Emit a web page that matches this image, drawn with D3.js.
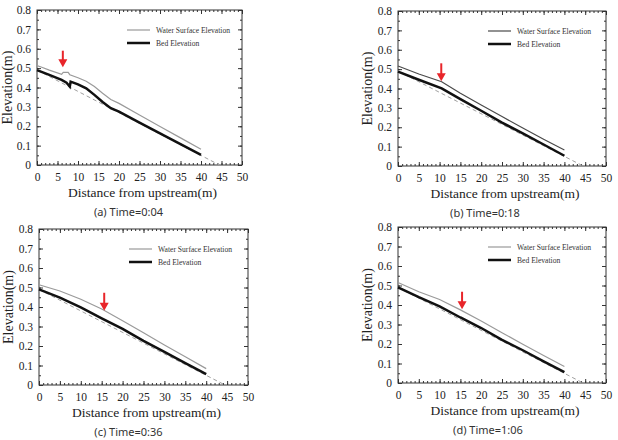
<!DOCTYPE html>
<html><head><meta charset="utf-8">
<script src="https://cdn.jsdelivr.net/npm/d3@7"></script>
<style>body{margin:0;background:#fff}</style>
</head><body><svg id="c" width="618" height="440"></svg>
<script>
// ---- data ----
const captions = ["(a) Time=0:04", "(b) Time=0:18", "(c) Time=0:36", "(d) Time=1:06"];
const xTicks = [0, 5, 10, 15, 20, 25, 30, 35, 40, 45, 50];
const yTicks = [0, 0.1, 0.2, 0.3, 0.4, 0.5, 0.6, 0.7, 0.8];
const yTickLabels = ["0", "0.1", "0.2", "0.3", "0.4", "0.5", "0.6", "0.7", "0.8"];
const seriesNames = ["Water Surface Elevation", "Bed Elevation"];
const xTitle = "Distance from upstream(m)";
const yTitle = "Elevation(m)";

const waterAx = [0, 1, 3, 6, 6.4, 7.6, 8.0, 10, 12, 14, 16, 18, 20, 25, 30, 35, 40];
const waterAy = [0.513, 0.506, 0.49, 0.468, 0.478, 0.478, 0.466, 0.45, 0.432, 0.405, 0.37, 0.338, 0.318, 0.258, 0.199, 0.14, 0.081];
const bedAx = [0, 3, 6, 7.2, 8.0, 8.2, 10, 12, 14, 16, 18, 20, 25, 30, 35, 40];
const bedAy = [0.49, 0.465, 0.439, 0.425, 0.405, 0.43, 0.416, 0.396, 0.362, 0.325, 0.293, 0.275, 0.219, 0.163, 0.108, 0.052];

const stationX = [0, 5, 10.5, 15, 20, 25, 30, 35, 40];
const waterBy = [0.516, 0.475, 0.435, 0.375, 0.315, 0.255, 0.196, 0.138, 0.083];
const bedBy = [0.487, 0.445, 0.401, 0.345, 0.285, 0.224, 0.168, 0.111, 0.053];

const stationX2 = [0, 5, 10, 15, 20, 25, 30, 35, 40];
const waterCy = [0.514, 0.482, 0.44, 0.39, 0.33, 0.268, 0.205, 0.145, 0.084];
const bedCy = [0.49, 0.448, 0.398, 0.342, 0.288, 0.226, 0.17, 0.112, 0.056];
const waterDy = [0.515, 0.468, 0.428, 0.375, 0.318, 0.258, 0.199, 0.141, 0.085];
const bedDy = [0.49, 0.44, 0.393, 0.336, 0.282, 0.221, 0.168, 0.111, 0.056];

const initBedX = [0, 44.5];
const initBedY = [0.49, 0.0];

const arrowX = [6.3, 10.4, 15.6, 15.4];
const arrowTop = [0.59, 0.53, 0.473, 0.468];
const arrowTip = [0.505, 0.437, 0.381, 0.378];

// ---- layout / style ----
const layout = [
  {l: 37, t: 10, r: 242, b: 165, capDx: -11, water: "#9a9a9a"},
  {l: 398, t: 11, r: 606, b: 166, capDx: -17, water: "#4a4a4a"},
  {l: 39, t: 229, r: 248, b: 385, capDx: -15, water: "#9a9a9a"},
  {l: 398, t: 227, r: 606, b: 383, capDx: -14, water: "#9a9a9a"}
];
const waterSets = [
  [waterAx, waterAy], [stationX, waterBy], [stationX2, waterCy], [stationX2, waterDy]
];
const bedSets = [
  [bedAx, bedAy], [stationX, bedBy], [stationX2, bedCy], [stationX2, bedDy]
];

const svg = d3.select("#c");
const serif = "'Liberation Serif','Times New Roman',serif";

layout.forEach((L, i) => {
  const x = d3.scaleLinear().domain([0, 50]).range([L.l, L.r]);
  const y = d3.scaleLinear().domain([0, 0.8]).range([L.b, L.t]);
  const g = svg.append("g");
  const minorX = d3.range(0, 51, 1);
  const minorY = d3.range(0, 0.8001, 0.05);

  // minor ticks
  const mk = (axis, tr, vals) => {
    const a = g.append("g").attr("transform", tr)
      .call(axis.tickValues(vals).tickFormat("").tickSizeInner(-2).tickSizeOuter(0));
    a.select(".domain").remove();
    a.selectAll("line").attr("stroke", "#333");
  };
  mk(d3.axisBottom(x), `translate(0,${L.b})`, minorX);
  mk(d3.axisTop(x), `translate(0,${L.t})`, minorX);
  mk(d3.axisLeft(y), `translate(${L.l},0)`, minorY);
  mk(d3.axisRight(y), `translate(${L.r},0)`, minorY);

  // major ticks
  const xb = g.append("g").attr("transform", `translate(0,${L.b})`)
    .call(d3.axisBottom(x).tickValues(xTicks).tickFormat(d3.format("d")).tickSizeInner(-4).tickSizeOuter(0).tickPadding(8));
  const xt = g.append("g").attr("transform", `translate(0,${L.t})`)
    .call(d3.axisTop(x).tickValues(xTicks).tickFormat("").tickSizeInner(-4).tickSizeOuter(0));
  const yl = g.append("g").attr("transform", `translate(${L.l},0)`)
    .call(d3.axisLeft(y).tickValues(yTicks).tickFormat((d, k) => yTickLabels[k]).tickSizeInner(-4).tickSizeOuter(0).tickPadding(6));
  const yr = g.append("g").attr("transform", `translate(${L.r},0)`)
    .call(d3.axisRight(y).tickValues(yTicks).tickFormat("").tickSizeInner(-4).tickSizeOuter(0));
  [xb, xt, yl, yr].forEach(a => {
    a.select(".domain").remove();
    a.selectAll("line").attr("stroke", "#333");
    a.selectAll("text").attr("font-family", serif).attr("font-size", 11.5).attr("fill", "#222");
  });

  // frame
  g.append("rect").attr("x", L.l).attr("y", L.t).attr("width", L.r - L.l).attr("height", L.b - L.t)
    .attr("fill", "none").attr("stroke", "#333").attr("stroke-width", 1);

  const line = d3.line().x(d => x(d[0])).y(d => y(d[1]));
  // initial bed (dashed)
  g.append("path").datum(d3.zip(initBedX, initBedY)).attr("d", line)
    .attr("fill", "none").attr("stroke", "#a0a0a0").attr("stroke-width", 1).attr("stroke-dasharray", "4,3");
  // water
  g.append("path").datum(d3.zip(waterSets[i][0], waterSets[i][1])).attr("d", line)
    .attr("fill", "none").attr("stroke", L.water).attr("stroke-width", 1.2);
  // bed
  g.append("path").datum(d3.zip(bedSets[i][0], bedSets[i][1])).attr("d", line)
    .attr("fill", "none").attr("stroke", "#111").attr("stroke-width", 2.5);

  // legend
  const lx0 = L.l + 90, lx1 = L.l + 113;
  [[L.water, 1.2, L.t + 20], ["#111", 2.5, L.t + 33]].forEach((s, k) => {
    g.append("line").attr("x1", lx0).attr("x2", lx1).attr("y1", s[2]).attr("y2", s[2])
      .attr("stroke", s[0]).attr("stroke-width", s[1]);
    g.append("text").attr("x", L.l + 119).attr("y", s[2]).attr("dy", "0.35em")
      .attr("font-family", serif).attr("font-size", 7.6).attr("fill", "#333").text(seriesNames[k]);
  });

  // arrow
  const ax = x(arrowX[i]), ay0 = y(arrowTop[i]), ay1 = y(arrowTip[i]);
  g.append("line").attr("x1", ax).attr("x2", ax).attr("y1", ay0).attr("y2", ay1 - 6)
    .attr("stroke", "#e8252a").attr("stroke-width", 2);
  g.append("path").attr("d", `M${ax - 4.5},${ay1 - 8} L${ax + 4.5},${ay1 - 8} L${ax},${ay1} Z`)
    .attr("fill", "#e8252a");

  // titles
  g.append("text").attr("x", (L.l + L.r) / 2 + 3).attr("y", L.b + 27).attr("dy", "0.35em")
    .attr("text-anchor", "middle").attr("font-family", serif).attr("font-size", 13.5).attr("fill", "#222").text(xTitle);
  g.append("text").attr("transform", `translate(${Math.max(L.l - 31, 7)},${(L.t + L.b) / 2}) rotate(-90)`)
    .attr("dy", "0.35em").attr("text-anchor", "middle").attr("font-family", serif).attr("font-size", 14).attr("fill", "#222").text(yTitle);
  g.append("text").attr("x", (L.l + L.r) / 2 + L.capDx).attr("y", L.b + 47).attr("dy", "0.35em")
    .attr("text-anchor", "middle").attr("font-family", "'Noto Sans','Open Sans',sans-serif").attr("font-size", 11).attr("fill", "#333").text(captions[i]);
});
</script></body></html>
